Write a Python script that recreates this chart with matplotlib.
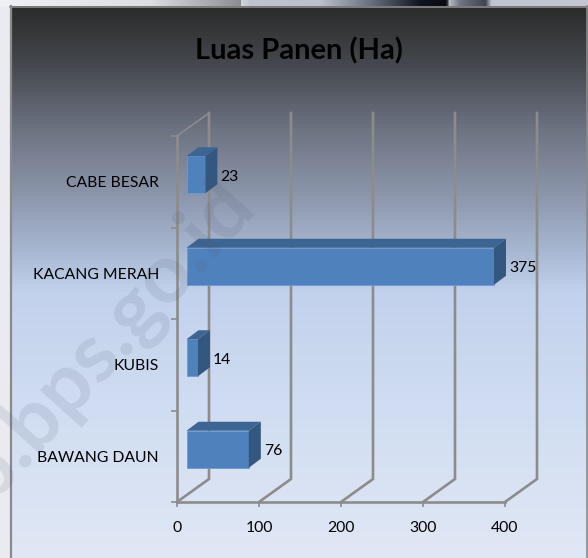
import numpy as np
from matplotlib import pyplot as plt
from matplotlib.colors import to_rgb

plt.rcParams['font.family'] = ['Lato', 'DejaVu Sans']

# data
#############################################################
categories = ["BAWANG DAUN", "KUBIS", "KACANG MERAH", "CABE BESAR"]
values = [76, 14, 375, 23]
xticks = [0, 100, 200, 300, 400]
title = "Luas Panen (Ha)"
watermark = "ab.bps.go.id"
#############################################################

W, H = 588, 558
grid_col = '#8c8c8c'

# pixel layout of the plot box
x0, x1 = 177, 505
ytop, ybot = 136, 502
px_x = (x1 - x0) / 400.
px_y = (ybot - ytop) / 4.

# background gradient stops (y pixel, colour)
bg_y = [6, 60, 130, 200, 250, 290, 400, 558]
bg_c = ['#2b2b2b', '#43464c', '#6e7583', '#8f9ab0', '#a9b8d2', '#c2d1ec', '#cfdcf1', '#e1e8f5']
# top strip (photo behind the panel)
top_x = [0, 150, 215, 240, 241, 250, 320, 370, 420, 445, 447, 449, 460, 485, 491, 588]
top_c = ['#f0f1f4', '#dcdee2', '#a4a5ab', '#8a8c92', '#d0d3da', '#c0c4d0', '#bcc0cc', '#6a7080',
         '#10141f', '#0a0a10', '#303544', '#b8bac0', '#707480', '#404450', '#c0c4d0', '#c5c8d3']


def ramp(pos, stops, cols, n):
    rgb = np.array([to_rgb(c) for c in cols])
    return np.stack([np.interp(pos, stops, rgb[:, i]) for i in range(3)], axis=-1).reshape(n)


fig = plt.figure(figsize=(W/100, H/100), dpi=100)

# background, drawn in pixel coordinates
bg = fig.add_axes([0, 0, 1, 1], zorder=0)
bg.set_axis_off()
img = np.empty((H, W, 3))
img[:] = to_rgb('#e9ebf0')
rows = np.arange(H)
bands = (rows // 4) * 4.      # the original has visible banding
img[6:, 11:, :] = ramp(bands, bg_y, bg_c, (H, 1, 3))[6:].repeat(W-11, axis=1)
img[:6, :, :] = ramp(np.arange(W), top_x, top_c, (1, W, 3)).repeat(6, axis=0)
bg.imshow(img, extent=[0, W, H, 0], aspect='auto', interpolation='nearest')
bg.plot([11, 11], [6, H], color='#8a8a8a', lw=1.6)
bg.plot([10, W], [6.5, 6.5], color='#8a8a8a', lw=1.2)
bg.plot([587, 587], [6, H], color='#8a8a8a', lw=1.2)
bg.set_xlim(0, W)
bg.set_ylim(H, 0)

# main axes
ax = fig.add_axes([x0/W, 1-ybot/H, (x1-x0)/W, (ybot-ytop)/H], zorder=1)
ax.patch.set_alpha(0)
ax.set_xlim(0, 400)
ax.set_ylim(0, 4)

# walls: gridlines at the back + floor diagonals
gdx, gdy = 32/px_x, 23/px_y
for t in xticks:
    ax.plot([t, t+gdx, t+gdx], [0, gdy, 4+gdy], color=grid_col, lw=1.9, clip_on=False, zorder=1,
            solid_joinstyle='miter')
ax.plot([0, gdx], [4, 4+gdy], color=grid_col, lw=1.2, clip_on=False, zorder=1)

# bars with a fake 3d depth
left = 9.5/px_x
bh = 37/px_y
bdx, bdy = 12/px_x, 9/px_y
ypos = np.arange(len(values)) + 0.5 + 7/px_y
ax.barh(ypos, values, left=left, height=bh, color='#4f81bd', edgecolor='#6d9ad2', lw=0.6, zorder=3)
for y, v in zip(ypos, values):
    xa, xb = left, left+v
    ya, yb = y-bh/2, y+bh/2
    ax.fill([xa, xb, xb+bdx, xa+bdx], [yb, yb, yb+bdy, yb+bdy], color='#3c6594', lw=0, clip_on=False, zorder=3)
    ax.fill([xb, xb+bdx, xb+bdx, xb], [ya, ya+bdy, yb+bdy, yb], color='#33577f', lw=0, clip_on=False, zorder=3)
    ax.text(xb+bdx+3/px_x, y-2/px_y, str(v), fontsize=11.3, color='black', ha='left', va='center', zorder=4)

# axes decoration
for s in ['top', 'right']:
    ax.spines[s].set_visible(False)
for s in ['left', 'bottom']:
    ax.spines[s].set_color(grid_col)
    ax.spines[s].set_linewidth(1.9)
    ax.spines[s].set_zorder(2)
ax.set_xticks(xticks)
ax.set_yticks(range(5))
ax.set_yticklabels([])
ax.set_yticks(np.arange(len(categories))+0.5, labels=categories, minor=True)
ax.tick_params(axis='x', length=3.5, width=1.2, color=grid_col, labelsize=11.3, pad=10)
ax.tick_params(axis='y', which='major', length=4, width=1.2, color=grid_col)
ax.tick_params(axis='y', which='minor', length=0, labelsize=11.3, pad=13)

fig.text(299/W, 1-51/H, title, fontsize=21, fontweight='bold', color='black', ha='center', va='center', zorder=2)

# watermark on top of everything
fig.text(93/W, 1-358/H, watermark, fontsize=60, fontweight='bold', color='#505a70', alpha=0.13,
         rotation=48, ha='center', va='center', rotation_mode='anchor', zorder=5)

fig.savefig('out.png', dpi=100)
